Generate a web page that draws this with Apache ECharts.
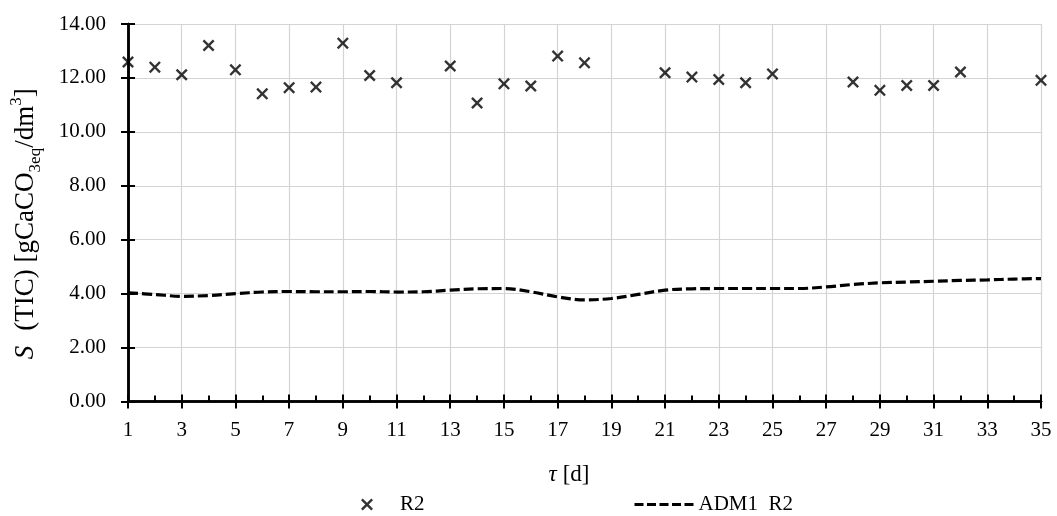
<!DOCTYPE html>
<html><head><meta charset="utf-8">
<script src="https://cdn.jsdelivr.net/npm/echarts@6/dist/echarts.min.js"></script>
<style>html,body{margin:0;padding:0;background:#fff}#c{width:1057px;height:516px}</style>
</head><body><div id="c"></div>
<script>
const r2Days = [1,2,3,4,5,6,7,8,9,10,11,13,14,15,16,17,18,21,22,23,24,25,28,29,30,31,32,35];
const r2Values = [12.59,12.40,12.12,13.20,12.30,11.41,11.64,11.66,13.29,12.09,11.82,12.44,11.07,11.78,11.70,12.81,12.56,12.19,12.03,11.94,11.82,12.15,11.85,11.54,11.72,11.72,12.22,11.91];
const admDays = [1,2,3,4,5,6,7,8,9,10,11,12,13,14,15,16,17,18,19,20,21,22,23,24,25,26,27,28,29,30,31,32,33,34,35];
const admValues = [4.03,3.97,3.90,3.93,4.00,4.06,4.08,4.07,4.07,4.08,4.06,4.07,4.13,4.18,4.19,4.07,3.88,3.77,3.82,3.97,4.13,4.18,4.19,4.19,4.19,4.19,4.25,4.34,4.40,4.43,4.46,4.49,4.51,4.54,4.56];
const seriesNames = ['R2', 'ADM1  R2'];
const xRange = [1, 35];
const yRange = [0, 14];

const FONT = 'Liberation Serif';
const FS = 21;
const NFS = 27;
const xMark = 'path://M0,1.7L1.7,0L6,4.3L10.3,0L12,1.7L7.7,6L12,10.3L10.3,12L6,7.7L1.7,12L0,10.3L4.3,6Z';

const chart = echarts.init(document.getElementById('c'), null, {renderer: 'canvas'});
const axisLine = {show: true, onZero: false, lineStyle: {color: '#000', width: 2.5}};
const baseX = {type: 'value', min: xRange[0], max: xRange[1], interval: 2, gridIndex: 0};
const baseY = {type: 'value', min: yRange[0], max: yRange[1], interval: 2, gridIndex: 0};

chart.setOption({
  animation: false,
  backgroundColor: '#fff',
  grid: {left: 127, right: 16, top: 24, bottom: 114.5, containLabel: false},
  xAxis: [
    Object.assign({}, baseX, {
      position: 'bottom',
      name: '{i|τ}{sp|}{n|[d]}',
      nameLocation: 'middle', nameGap: 62,
      nameTextStyle: {padding: [0, 31, 0, 0], rich: {
        i: {fontFamily: FONT, fontStyle: 'italic', fontSize: 23, color: '#000'},
        sp: {width: 6},
        n: {fontFamily: FONT, fontSize: 23, color: '#000'}
      }},
      axisLine: axisLine,
      axisTick: {show: true, inside: false, length: 7, lineStyle: {color: '#000', width: 2}},
      axisLabel: {show: true, margin: 18, fontFamily: FONT, fontSize: FS, color: '#000'},
      splitLine: {show: true, lineStyle: {color: '#d4d4d4', width: 1.2}}
    }),
    Object.assign({}, baseX, {
      position: 'bottom',
      axisLine: axisLine,
      axisTick: {show: true, inside: true, length: 7, lineStyle: {color: '#000', width: 2}},
      minorTick: {show: true, splitNumber: 2, length: 6, lineStyle: {color: '#000', width: 2}},
      axisLabel: {show: false},
      splitLine: {show: false}
    })
  ],
  yAxis: [
    Object.assign({}, baseY, {
      position: 'left',
      name: '{i|S}{sp|}{n|(TIC) [gCaCO}{sub|3eq}{n|/dm}{sup|3}{n|]}',
      nameLocation: 'middle', nameGap: 84, nameRotate: 90,
      nameTextStyle: {padding: [0, 22, 0, 0], rich: {
        i: {fontFamily: FONT, fontStyle: 'italic', fontSize: NFS, color: '#000', lineHeight: 36},
        sp: {width: 15},
        n: {fontFamily: FONT, fontSize: NFS, color: '#000', lineHeight: 36},
        sub: {fontFamily: FONT, fontSize: 17, color: '#000', lineHeight: 14, verticalAlign: 'bottom'},
        sup: {fontFamily: FONT, fontSize: 17, color: '#000', lineHeight: 22, verticalAlign: 'top'}
      }},
      axisLine: axisLine,
      axisTick: {show: true, inside: false, length: 7, lineStyle: {color: '#000', width: 2}},
      axisLabel: {show: true, margin: 22, fontFamily: FONT, fontSize: FS, color: '#000',
        formatter: v => v.toFixed(2)},
      splitLine: {show: true, lineStyle: {color: '#d4d4d4', width: 1.2}}
    }),
    Object.assign({}, baseY, {
      position: 'left',
      axisLine: axisLine,
      axisTick: {show: true, inside: true, length: 7, lineStyle: {color: '#000', width: 2}},
      axisLabel: {show: false},
      splitLine: {show: false}
    })
  ],
  legend: [
    {data: [seriesNames[0]], left: 356, top: 489, itemWidth: 62, itemHeight: 12, itemGap: 0,
     textStyle: {fontFamily: FONT, fontSize: FS, color: '#000', padding: [0, 0, 0, -3]}},
    {data: [seriesNames[1]], left: 628, top: 489, itemWidth: 62, itemHeight: 12, itemGap: 0,
     itemStyle: {opacity: 0},
     lineStyle: {width: 3, type: [9, 3.5]},
     textStyle: {fontFamily: FONT, fontSize: FS, color: '#000', padding: [0, 0, 0, -3]}}
  ],
  series: [
    {
      name: seriesNames[0], type: 'scatter', xAxisIndex: 0, yAxisIndex: 0,
      symbol: xMark, symbolSize: 12,
      itemStyle: {color: '#000'},
      data: r2Days.map((d, i) => [d, r2Values[i]]),
      z: 5
    },
    {
      name: seriesNames[1], type: 'line', xAxisIndex: 0, yAxisIndex: 0,
      smooth: 0.35, showSymbol: false, symbol: 'none',
      lineStyle: {color: '#000', width: 3.2, type: [10, 4]},
      itemStyle: {color: '#000'},
      data: admDays.map((d, i) => [d, admValues[i]]),
      z: 4
    }
  ]
});
</script></body></html>
